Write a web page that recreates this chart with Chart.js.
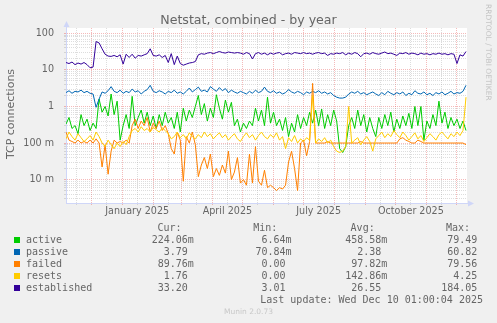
<!DOCTYPE html>
<html>
<head>
<meta charset="utf-8">
<title>Netstat, combined - by year</title>
<script src="https://cdn.jsdelivr.net/npm/chart.js@4.4.1/dist/chart.umd.min.js"></script>
<style>
  html, body { margin: 0; padding: 0; background: #f0f0f0; }
  #wrap { position: relative; width: 497px; height: 323px; overflow: hidden;
          font-family: "DejaVu Sans", sans-serif; color: #666; }
  #chart { position: absolute; left: 0; top: 0; }
  .abs { position: absolute; white-space: pre; }
  #title { left: 0; width: 497px; top: 11.6px; text-align: center; font-size: 12.6px; line-height: 16px; }
  #ytitle { left: -49px; top: 107px; width: 120px; height: 14px; line-height: 14px; font-size: 11px;
            text-align: center; transform: rotate(-90deg); }
  #watermark { left: 440px; top: 47px; width: 96px; height: 10px; line-height: 10px; font-size: 7.5px;
               text-align: center; color: #c4c4c4; transform: rotate(90deg); }
  #munin { left: 0; width: 497px; top: 307px; text-align: center; font-size: 7.5px; line-height: 10px; color: #c8c8c8; }
  .mono { font-family: "DejaVu Sans Mono", monospace; font-size: 10px; line-height: 12px; }
  .box { position: absolute; width: 6px; height: 6px; }
</style>
</head>
<body>
<div id="wrap">
  <canvas id="chart" width="497" height="323"></canvas>
  <div id="title" class="abs">Netstat, combined - by year</div>
  <div id="ytitle" class="abs">TCP connections</div>
  <div id="watermark" class="abs">RRDTOOL / TOBI OETIKER</div>
  <div id="legend"></div>
  <div id="munin" class="abs">Munin 2.0.73</div>
</div>
<script>
// ----- Data (one point every 3 days, starting 6 Nov 2024) -----
const startDate = Date.UTC(2024, 10, 6);
const stepDays = 3;
const days = Array.from({ length: 134 }, (_, i) => i * stepDays);

const active = [0.33,0.5,0.25,0.3,0.18,0.6,0.3,0.45,0.22,0.35,
  0.25,1.6,0.7,1.0,0.55,2.2,0.6,1.4,0.12,0.3,
  0.6,0.25,1.9,0.3,0.5,0.8,0.35,0.7,0.3,0.55,
  0.25,0.6,0.3,0.7,0.35,0.5,0.25,0.7,0.2,0.9,
  0.4,0.8,0.5,1.0,2.0,0.6,1.2,0.4,0.9,0.5,
  2.1,0.9,0.45,1.5,0.7,1.3,0.3,0.45,0.2,0.35,
  0.25,0.4,0.3,0.9,0.4,0.8,0.3,1.8,0.35,0.7,
  0.3,0.45,0.22,0.5,0.15,0.35,0.2,0.6,0.25,0.5,
  0.3,0.7,0.35,0.8,0.3,0.85,0.25,0.6,0.3,0.8,
  0.4,0.07,0.055,0.08,0.3,0.5,0.25,0.8,0.3,0.6,
  0.2,0.5,0.25,0.15,0.5,0.25,0.6,0.3,0.7,0.2,
  0.45,0.25,0.55,0.3,0.65,0.25,1.0,0.3,1.0,0.12,
  0.4,0.25,0.6,0.3,1.4,0.35,0.7,0.25,0.5,0.3,
  0.45,0.25,0.4,0.22];

const passive = [2.4,2.7,2.3,2.6,2.5,2.8,2.4,2.6,2.3,2.2,
  0.95,1.6,2.5,2.3,2.7,3.5,2.6,2.4,2.8,2.3,
  2.6,2.4,3.0,2.5,2.7,2.2,2.6,2.9,3.8,2.6,
  2.4,2.7,2.5,2.2,2.6,2.4,2.8,2.3,2.5,2.2,
  2.6,3.2,2.5,2.9,3.4,2.6,2.8,2.5,3.5,3.0,
  2.6,3.3,2.7,3.1,2.4,2.8,2.5,2.3,2.6,2.4,
  2.2,2.6,2.3,2.8,2.4,2.6,3.4,2.6,2.4,2.7,
  2.3,2.5,2.2,2.4,2.9,2.5,2.3,2.6,2.4,2.1,
  2.5,2.3,2.6,2.4,2.7,2.3,2.5,2.2,2.4,2.0,
  1.8,1.7,1.7,1.8,2.2,2.5,2.3,2.6,2.2,2.4,
  2.1,2.3,2.5,2.2,2.0,2.4,2.1,2.6,2.3,2.1,
  2.4,2.2,2.5,2.0,2.3,2.1,2.7,2.3,2.2,2.5,
  2.1,2.3,2.0,2.4,2.2,2.5,2.1,2.3,2.6,2.2,
  2.4,2.3,2.6,3.8];

const failed = [0.2,0.12,0.11,0.1,0.12,0.1,0.11,0.1,0.12,0.1,
  0.13,0.1,0.022,0.09,0.014,0.06,0.12,0.1,0.11,0.1,
  0.12,0.1,0.3,0.45,0.25,0.4,0.3,0.5,0.2,0.35,
  0.25,0.4,0.22,0.3,0.18,0.07,0.05,0.2,0.12,0.009,
  0.15,0.1,0.2,0.09,0.012,0.025,0.04,0.02,0.05,0.012,
  0.02,0.013,0.025,0.015,0.06,0.01,0.016,0.04,0.008,0.01,
  0.007,0.05,0.008,0.08,0.009,0.007,0.018,0.006,0.007,0.006,
  0.005,0.006,0.0055,0.007,0.03,0.06,0.02,0.005,0.1,0.12,
  0.045,0.11,4.3,0.1,0.1,0.1,0.1,0.11,0.1,0.1,
  0.1,0.1,0.1,0.1,0.1,0.1,0.1,0.1,0.11,0.1,
  0.1,0.1,0.1,0.1,0.1,0.1,0.1,0.1,0.1,0.1,
  0.1,0.13,0.14,0.12,0.11,0.1,0.1,0.12,0.11,0.1,
  0.1,0.1,0.1,0.1,0.1,0.1,0.1,0.1,0.1,0.1,
  0.1,0.1,0.1,0.09];

const resets = [0.13,0.2,0.15,0.12,0.18,0.14,0.11,0.13,0.16,0.12,
  0.2,0.15,0.1,0.08,0.12,0.09,0.07,0.1,0.08,0.11,
  0.09,0.15,0.22,0.25,0.2,0.28,0.22,0.25,0.2,0.27,
  0.23,0.2,0.26,0.22,0.18,0.13,0.15,0.2,0.14,0.17,
  0.13,0.19,0.15,0.13,0.17,0.14,0.2,0.15,0.18,0.13,
  0.16,0.19,0.14,0.17,0.12,0.15,0.18,0.13,0.11,0.15,
  0.19,0.14,0.17,0.12,0.16,0.2,0.15,0.13,0.17,0.14,
  0.19,0.12,0.15,0.07,0.14,0.11,0.16,0.1,0.13,0.11,
  0.14,0.12,2.0,0.1,0.13,0.11,0.14,0.1,0.12,0.08,
  0.06,0.055,0.06,0.08,1.0,0.1,0.12,0.14,0.09,0.12,
  0.15,0.11,0.06,0.13,0.16,0.2,0.14,0.18,0.15,0.22,
  0.17,0.14,0.2,0.16,0.12,0.15,0.19,0.13,0.16,0.11,
  0.14,0.18,0.15,0.12,0.17,0.2,0.16,0.13,0.18,0.15,
  0.2,0.16,0.22,1.8];

const established = [16,15,16.5,14,15.5,14.5,16,14,11.5,12,
  60,55,38,27,24,23.5,25,23,26,14.5,
  27,22,27,21,25,24,26,28,38,25,
  24,26,22,25,16,28,14,24,15,13.5,
  14.5,15.5,16,17,26,28,27,29,30,28,
  30,32,30,29,31,30,29,30,29,27,
  30,28,20,28,30,27,29,26,29,27,
  29,30,26,28,29,27,30,29,28,30,
  28,29,27,29,30,28,29,25,28,27,
  29,28,30,26,29,27,30,28,23,28,
  29,27,30,28,27,29,31,28,29,27,
  25,29,28,30,27,29,28,26,29,27,
  28,26,28,27,29,27,28,26,28,27,
  15,26,24,32];

// ----- Legend table -----
const seriesNames = ["active", "passive", "failed", "resets", "established"];
const seriesColors = ["#00cc00", "#0066b3", "#ff8000", "#ffcc00", "#330099"];
const curVals = ["224.06m", "3.79 ", "89.76m", "1.76 ", "33.20 "];
const minVals = ["6.64m", "70.84m", "0.00 ", "0.00 ", "3.01 "];
const avgVals = ["458.58m", "2.38 ", "97.82m", "142.86m", "26.55 "];
const maxVals = ["79.49 ", "60.82 ", "79.56 ", "4.25 ", "184.05 "];
const lastUpdate = "Last update: Wed Dec 10 01:00:04 2025";

// ----- Axis ticks -----
const yDecades = [0.001, 0.01, 0.1, 1, 10, 100];
const yDecadeLabels = ["1 m", "10 m", "100 m", "1", "10", "100"];
const xLabelMonths = [[2025, 0, "January 2025"], [2025, 3, "April 2025"], [2025, 6, "July 2025"], [2025, 9, "October 2025"]];

const yMin = 0.00228, yMax = 141, xMax = 400;

function dayOf(y, m, d) {
  return (Date.UTC(y, m, d) - startDate) / 86400000;
}

const yTicks = [];
yDecades.forEach((dec, k) => {
  for (let m = 1; m <= 9; m++) {
    const v = Number((m * dec).toPrecision(3));
    if (v > yMin && v < yMax) yTicks.push({ value: v, major: m === 1, label: m === 1 ? yDecadeLabels[k] : "" });
  }
});

const xTicks = [];
for (let n = 0; n < 15; n++) {
  const y = 2024 + Math.floor((10 + n) / 12);
  const m = (10 + n) % 12;
  const first = dayOf(y, m, 1);
  const mid = dayOf(y, m, 16);
  const lab = xLabelMonths.find((e) => e[0] === y && e[1] === m);
  if (first > 0 && first < xMax) xTicks.push({ value: first, major: true, label: "" });
  if (mid > 0 && mid < xMax) xTicks.push({ value: mid, major: false, label: lab ? lab[2] : "" });
}

const majorGrid = "rgba(230, 90, 90, 0.42)";
const minorGrid = "rgba(150, 150, 150, 0.32)";
const axisColor = "#cfd6f8";

// ----- Plugins -----
const plotBackground = {
  id: "plotBackground",
  beforeDraw(chart) {
    const { ctx, chartArea: a } = chart;
    ctx.save();
    ctx.fillStyle = "#ffffff";
    ctx.fillRect(a.left, a.top, a.right - a.left, a.bottom - a.top);
    ctx.restore();
  },
};

const axisArrows = {
  id: "axisArrows",
  afterDraw(chart) {
    const { ctx, chartArea: a } = chart;
    ctx.save();
    ctx.fillStyle = axisColor;
    ctx.strokeStyle = axisColor;
    ctx.lineWidth = 1;
    ctx.beginPath();
    ctx.moveTo(a.left + 0.5, a.top);
    ctx.lineTo(a.left + 0.5, a.top - 3);
    ctx.moveTo(a.right, a.bottom + 0.5);
    ctx.lineTo(a.right + 2, a.bottom + 0.5);
    ctx.stroke();
    ctx.beginPath();
    ctx.moveTo(a.left + 0.5, a.top - 7);
    ctx.lineTo(a.left - 2.5, a.top - 1);
    ctx.lineTo(a.left + 3.5, a.top - 1);
    ctx.closePath();
    ctx.fill();
    ctx.beginPath();
    ctx.moveTo(a.right + 7, a.bottom + 0.5);
    ctx.lineTo(a.right + 1, a.bottom - 2.5);
    ctx.lineTo(a.right + 1, a.bottom + 3.5);
    ctx.closePath();
    ctx.fill();
    ctx.restore();
  },
};

// ----- Legend -----
function buildLegend() {
  const legend = document.getElementById("legend");
  const put = (text, style) => {
    const d = document.createElement("div");
    d.className = "abs mono";
    d.textContent = text;
    Object.assign(d.style, style);
    legend.appendChild(d);
  };
  const rowTop = (r) => 221.5 + 12 * r + "px";
  put("Cur:", { left: "157.5px", top: rowTop(0) });
  put("Min:", { left: "253.3px", top: rowTop(0) });
  put("Avg:", { left: "350.6px", top: rowTop(0) });
  put("Max:", { left: "446px", top: rowTop(0) });
  seriesNames.forEach((name, i) => {
    const top = rowTop(i + 1);
    const box = document.createElement("div");
    box.className = "box";
    box.style.left = "14px";
    box.style.top = 221.5 + 12 * (i + 1) + 3.5 + "px";
    box.style.background = seriesColors[i];
    legend.appendChild(box);
    put(name, { left: "26px", top });
    put(curVals[i], { right: 497 - 193.8 + "px", top, textAlign: "right" });
    put(minVals[i], { right: 497 - 291.6 + "px", top, textAlign: "right" });
    put(avgVals[i], { right: 497 - 387.3 + "px", top, textAlign: "right" });
    put(maxVals[i], { right: 497 - 483.4 + "px", top, textAlign: "right" });
  });
  put(lastUpdate, { right: 497 - 483 + "px", top: rowTop(6), textAlign: "right" });
}

// ----- Chart -----
function makeDataset(label, values, color, order) {
  return {
    label,
    data: days.map((d, i) => ({ x: d, y: values[i] })),
    borderColor: color,
    backgroundColor: color,
    borderWidth: 1,
    pointRadius: 0,
    tension: 0,
    order,
  };
}

Chart.defaults.font.family = "'DejaVu Sans', sans-serif";
Chart.defaults.color = "#666";

new Chart(document.getElementById("chart"), {
  type: "line",
  data: {
    datasets: [
      makeDataset("active", active, seriesColors[0], 5),
      makeDataset("passive", passive, seriesColors[1], 4),
      makeDataset("failed", failed, seriesColors[2], 3),
      makeDataset("resets", resets, seriesColors[3], 2),
      makeDataset("established", established, seriesColors[4], 1),
    ],
  },
  options: {
    responsive: false,
    animation: false,
    events: [],
    layout: { padding: { left: 0, right: 30, top: 28, bottom: 100 } },
    plugins: { legend: { display: false }, tooltip: { enabled: false }, title: { display: false } },
    scales: {
      x: {
        type: "linear",
        min: 0,
        max: xMax,
        afterFit: (scale) => { scale.height = 20; },
        afterBuildTicks: (scale) => { scale.ticks = xTicks.map((t) => ({ value: t.value })); },
        ticks: {
          autoSkip: false,
          maxRotation: 0,
          minRotation: 0,
          padding: 1,
          font: { size: 9.6 },
          color: "#666",
          callback: (v, i) => (xTicks[i] ? xTicks[i].label : ""),
        },
        grid: {
          tickLength: 2,
          color: (c) => (xTicks[c.index] && xTicks[c.index].major ? majorGrid : minorGrid),
        },
        border: { color: axisColor, width: 1, dash: [1, 1] },
      },
      y: {
        type: "logarithmic",
        min: yMin,
        max: yMax,
        afterFit: (scale) => { scale.width = 66; },
        afterBuildTicks: (scale) => { scale.ticks = yTicks.map((t) => ({ value: t.value })); },
        ticks: {
          autoSkip: false,
          padding: 10,
          font: { size: 9.6 },
          color: "#666",
          callback: (v, i) => (yTicks[i] ? yTicks[i].label : ""),
        },
        grid: {
          tickLength: 2,
          color: (c) => (yTicks[c.index] && yTicks[c.index].major ? majorGrid : minorGrid),
        },
        border: { color: axisColor, width: 1, dash: [1, 1] },
      },
    },
  },
  plugins: [plotBackground, axisArrows],
});

buildLegend();
</script>
</body>
</html>
